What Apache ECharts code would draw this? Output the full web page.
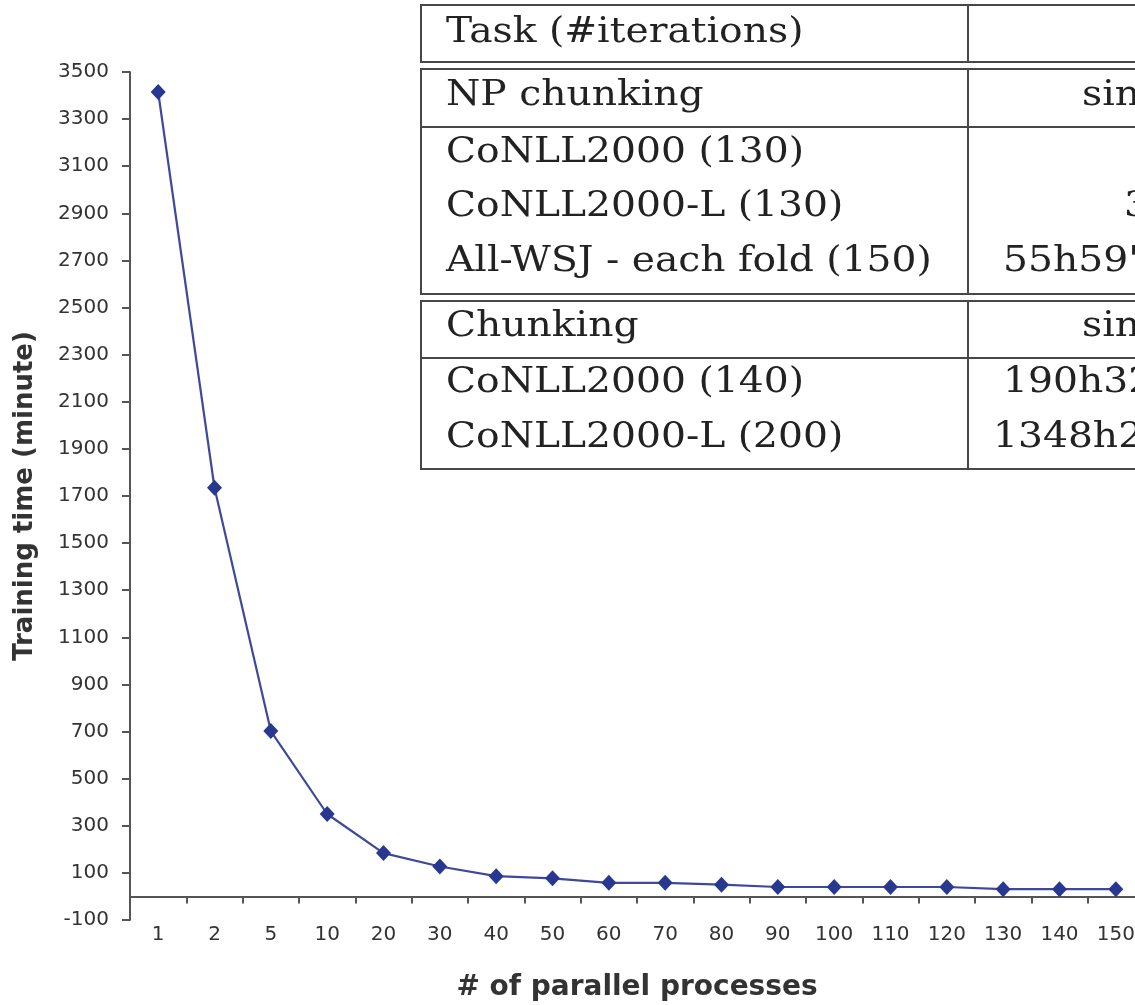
<!DOCTYPE html>
<html>
<head>
<meta charset="utf-8">
<script src="https://cdn.jsdelivr.net/npm/echarts@6/dist/echarts.min.js"></script>
<style>
html,body{margin:0;padding:0;background:#fff;}
#chart{width:1135px;height:1005px;}
</style>
</head>
<body>
<div id="chart"></div>
<script>
// ---- data ----
const categories = ['1','2','5','10','20','30','40','50','60','70','80','90','100','110','120','130','140','150'];
const trainingTime = [3415, 1735, 702, 350, 184, 127, 86, 77, 58, 58, 50, 40, 40, 40, 40, 31, 31, 31];
const yTicks = { min: -100, max: 3500, interval: 200 };
const tableLeft = ['Task (#iterations)', 'NP chunking', 'CoNLL2000 (130)', 'CoNLL2000-L (130)', 'All-WSJ - each fold (150)', 'Chunking', 'CoNLL2000 (140)', 'CoNLL2000-L (200)'];
const tableRight = ['', 'single', '', '3h', "55h59'", 'single', "190h32'", "1348h26'"];

// ---- table layout ----
const rowY = [33, 96, 153, 207, 262, 327, 383, 438];
const rightX = [0, 1082, 0, 1124, 1003, 1082, 1003, 993];
const boxes = [[5, 62, null], [69, 294, 127], [301, 469, 358]];
const lineColor = '#474747';
const serifFont = '36px "DejaVu Serif", serif';
const sx = 1.09;

const graphics = [];
boxes.forEach(b => {
  graphics.push({ type: 'rect', z: 10, shape: { x: 421, y: b[0], width: 760, height: b[1] - b[0] },
    style: { fill: '#fff', stroke: lineColor, lineWidth: 2 } });
  graphics.push({ type: 'line', z: 11, shape: { x1: 968, y1: b[0], x2: 968, y2: b[1] },
    style: { stroke: lineColor, lineWidth: 2 } });
  if (b[2] !== null) {
    graphics.push({ type: 'line', z: 11, shape: { x1: 421, y1: b[2], x2: 1180, y2: b[2] },
      style: { stroke: lineColor, lineWidth: 2 } });
  }
});
tableLeft.forEach((t, i) => {
  graphics.push({ type: 'text', z: 12, x: 446, y: rowY[i], scaleX: sx,
    style: { text: t, font: serifFont, fill: '#222', verticalAlign: 'middle', align: 'left' } });
  if (tableRight[i]) {
    graphics.push({ type: 'text', z: 12, x: rightX[i], y: rowY[i], scaleX: sx,
      style: { text: tableRight[i], font: serifFont, fill: '#222', verticalAlign: 'middle', align: 'left' } });
  }
});

const chart = echarts.init(document.getElementById('chart'), null, { renderer: 'canvas' });
chart.setOption({
  animation: false,
  backgroundColor: '#fff',
  grid: { left: 130, top: 72, width: 1014, height: 848, containLabel: false, outerBoundsMode: 'none' },
  xAxis: {
    type: 'category',
    data: categories,
    boundaryGap: true,
    name: '# of parallel processes',
    nameLocation: 'middle',
    nameGap: 54,
    nameTextStyle: { fontFamily: '"DejaVu Sans", sans-serif', fontWeight: 'bold', fontSize: 28, color: '#333' },
    axisLine: { onZero: true, lineStyle: { color: '#555', width: 2 } },
    axisTick: { show: true, length: 7, alignWithLabel: false, lineStyle: { color: '#555', width: 2 } },
    axisLabel: { fontFamily: '"DejaVu Sans", sans-serif', fontSize: 20, color: '#333', margin: 5, interval: 0 },
    splitLine: { show: false }
  },
  yAxis: {
    type: 'value',
    min: yTicks.min,
    max: yTicks.max,
    interval: yTicks.interval,
    name: 'Training time (minute)',
    nameLocation: 'middle',
    nameGap: 92,
    nameTextStyle: { fontFamily: '"DejaVu Sans", sans-serif', fontWeight: 'bold', fontSize: 26, color: '#333' },
    axisLine: { show: true, lineStyle: { color: '#555', width: 2 } },
    axisTick: { show: true, length: 8, lineStyle: { color: '#555', width: 2 } },
    axisLabel: { fontFamily: '"DejaVu Sans", sans-serif', fontSize: 20, color: '#333', margin: 21,
      formatter: v => String(v) },
    splitLine: { show: false }
  },
  series: [{
    type: 'line',
    data: trainingTime,
    symbol: 'diamond',
    symbolSize: [15, 16],
    itemStyle: { color: '#283891' },
    lineStyle: { color: '#3d4a9c', width: 2.2 }
  }],
  graphic: graphics
});
</script>
</body>
</html>
